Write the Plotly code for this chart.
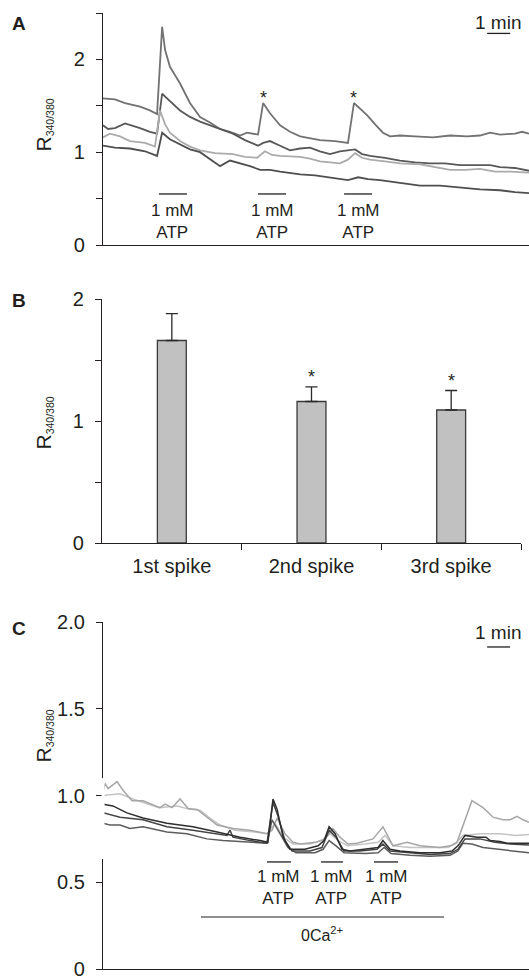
import plotly.graph_objects as go

FONT = "Liberation Sans, Arial, Helvetica, sans-serif"
INK = "#231f20"

# ---------------- Panel A: time (min) / ratio ----------------
a_t1 = [0.00, 0.52, 0.96, 1.61, 2.04, 2.35, 2.57, 2.70, 2.91, 3.35, 3.78, 4.22, 4.65, 5.09, 5.52, 5.96, 6.26, 6.74,
        6.96, 7.26, 7.70, 8.13, 8.57, 9.00, 9.43, 10.09, 10.65, 10.91, 11.17, 11.48, 11.83, 12.17, 12.48, 12.91,
        13.57, 14.35, 15.09, 15.83, 16.39, 16.83, 17.26, 17.91, 18.22, 18.52]
a_v1 = [1.58, 1.57, 1.53, 1.49, 1.45, 1.41, 2.35, 2.10, 1.92, 1.74, 1.53, 1.38, 1.32, 1.25, 1.22, 1.18, 1.21, 1.19,
        1.53, 1.42, 1.29, 1.22, 1.17, 1.15, 1.13, 1.12, 1.10, 1.53, 1.47, 1.40, 1.30, 1.21, 1.17, 1.18,
        1.17, 1.16, 1.18, 1.17, 1.18, 1.21, 1.19, 1.20, 1.22, 1.20]

a_t2 = [0.00, 0.22, 0.52, 0.96, 1.61, 2.04, 2.35, 2.57, 2.91, 3.35, 3.78, 4.22, 4.87, 5.65, 6.17, 6.74, 6.96, 7.26,
        7.70, 8.13, 8.57, 9.00, 9.43, 9.87, 10.30, 10.74, 10.96, 11.26, 11.61, 12.26, 12.91, 13.57, 14.22, 14.87,
        15.52, 16.39, 16.83, 17.26, 17.91, 18.52]
a_v2 = [1.29, 1.25, 1.26, 1.31, 1.26, 1.22, 1.20, 1.63, 1.55, 1.45, 1.38, 1.33, 1.27, 1.20, 1.13, 1.07, 1.10, 1.12,
        1.07, 1.02, 1.04, 1.05, 1.01, 0.98, 1.01, 1.02, 1.03, 0.98, 0.96, 0.94, 0.91, 0.89, 0.88, 0.88,
        0.86, 0.86, 0.86, 0.84, 0.83, 0.80]

a_t3 = [0.00, 0.30, 0.74, 1.17, 1.83, 2.26, 2.48, 2.70, 2.91, 3.35, 3.78, 4.22, 4.87, 5.65, 6.17, 6.70, 7.04, 7.35,
        7.70, 8.57, 9.00, 9.43, 9.87, 10.30, 10.65, 10.96, 11.26, 11.61, 12.26, 12.91, 13.78, 14.22, 15.09, 15.74,
        16.39, 17.04, 17.70, 18.52]
a_v3 = [1.16, 1.20, 1.17, 1.12, 1.10, 1.06, 1.45, 1.30, 1.21, 1.12, 1.06, 1.02, 0.99, 0.98, 0.95, 0.94, 1.01, 0.97,
        0.96, 0.95, 0.93, 0.90, 0.89, 0.88, 0.92, 0.99, 0.94, 0.92, 0.90, 0.88, 0.87, 0.85, 0.81, 0.81,
        0.82, 0.79, 0.79, 0.78]

a_t4 = [0.00, 0.52, 1.17, 1.83, 2.35, 2.57, 2.91, 3.35, 3.78, 4.22, 4.65, 5.09, 5.52, 5.96, 6.39, 6.83, 7.26, 7.70,
        8.57, 9.22, 9.87, 10.65, 11.09, 11.52, 12.04, 12.91, 13.78, 14.65, 15.52, 16.39, 17.26, 17.91, 18.52]
a_v4 = [1.07, 1.05, 1.04, 1.01, 0.96, 1.21, 1.14, 1.08, 1.03, 1.00, 0.93, 0.85, 0.91, 0.88, 0.85, 0.81, 0.81, 0.79,
        0.76, 0.75, 0.73, 0.70, 0.73, 0.71, 0.70, 0.67, 0.64, 0.64, 0.62, 0.60, 0.59, 0.57, 0.56]

a_atp_on = [2.43, 6.74, 10.48]
a_atp_off = [3.65, 7.96, 11.70]
a_star_t = [6.96, 10.91]

# ---------------- Panel B: spike amplitudes ----------------
b_cats = ["1st spike", "2nd spike", "3rd spike"]
b_mean = [1.66, 1.16, 1.09]
b_sem = [0.22, 0.12, 0.16]
b_star = ["", "*", "*"]

# ---------------- Panel C: 0 Ca2+ ----------------
c_t1 = [0.00, 0.09, 0.22, 0.61, 0.87, 1.26, 1.74, 2.48, 2.70, 3.00, 3.35, 3.70, 4.09, 4.52, 4.96, 5.65, 6.39, 7.13,
        7.35, 7.57, 7.91, 8.26, 8.57, 9.22, 9.65, 10.00, 10.30, 10.65, 11.04, 11.74, 12.17, 12.61, 13.22, 13.78,
        14.65, 15.09, 15.39, 16.04, 16.52, 16.96, 17.39, 17.70, 18.00, 18.26, 18.52]
c_v1 = [1.02, 1.07, 1.04, 1.08, 1.03, 0.97, 0.97, 0.93, 0.95, 0.93, 0.98, 0.925, 0.92, 0.875, 0.83, 0.81, 0.80, 0.78,
        0.80, 0.87, 0.78, 0.73, 0.72, 0.73, 0.75, 0.81, 0.76, 0.72, 0.725, 0.75, 0.82, 0.71, 0.73, 0.71,
        0.70, 0.71, 0.73, 0.97, 0.93, 0.875, 0.86, 0.86, 0.88, 0.86, 0.845]

c_t2 = [0.00, 0.74, 1.30, 1.74, 2.43, 3.22, 3.78, 4.22, 4.65, 5.09, 5.74, 6.61, 7.13, 7.48, 7.83, 8.26, 9.00, 9.52,
        9.87, 10.22, 10.65, 11.39, 11.96, 12.26, 12.61, 13.35, 14.22, 15.00, 15.30, 15.65, 16.39, 17.26, 17.91, 18.52]
c_v2 = [1.00, 1.01, 0.98, 0.96, 0.93, 0.94, 0.92, 0.915, 0.87, 0.83, 0.80, 0.79, 0.78, 0.84, 0.76, 0.72, 0.72, 0.74,
        0.78, 0.74, 0.71, 0.72, 0.73, 0.77, 0.71, 0.70, 0.70, 0.70, 0.72, 0.77, 0.78, 0.78, 0.77, 0.775]

c_t3 = [0.00, 0.43, 1.04, 1.74, 2.78, 3.91, 4.96, 5.96, 6.83, 7.17, 7.39, 7.57, 7.83, 8.13, 8.78, 9.35, 9.61, 9.83,
        10.09, 10.39, 10.74, 11.39, 11.96, 12.17, 12.48, 12.91, 13.78, 14.65, 15.17, 15.43, 15.74, 16.26, 16.65,
        16.83, 17.26, 17.57, 18.52]
c_v3 = [0.95, 0.94, 0.90, 0.87, 0.84, 0.82, 0.79, 0.76, 0.74, 0.73, 0.98, 0.92, 0.76, 0.69, 0.69, 0.71, 0.74, 0.82,
        0.78, 0.69, 0.68, 0.69, 0.70, 0.74, 0.69, 0.68, 0.67, 0.67, 0.68, 0.71, 0.77, 0.76, 0.76,
        0.74, 0.735, 0.725, 0.725]

c_t4 = [0.00, 0.74, 1.74, 2.78, 3.91, 5.39, 5.52, 5.65, 6.39, 7.13, 7.39, 7.61, 7.91, 8.22, 9.00, 9.52, 9.83, 10.13,
        10.48, 11.17, 11.91, 12.17, 12.48, 13.35, 14.22, 15.09, 15.43, 15.74, 16.39, 17.04, 17.70, 18.52]
c_v4 = [0.90, 0.875, 0.86, 0.82, 0.80, 0.77, 0.80, 0.76, 0.74, 0.725, 0.96, 0.88, 0.74, 0.68, 0.68, 0.70, 0.80, 0.76,
        0.68, 0.68, 0.69, 0.72, 0.68, 0.67, 0.66, 0.665, 0.69, 0.75, 0.75, 0.73, 0.72, 0.715]

c_t5 = [0.00, 0.30, 0.74, 1.17, 1.74, 2.35, 2.78, 3.65, 4.52, 5.22, 6.39, 7.13, 7.35, 7.61, 8.04, 8.39, 9.22, 9.57,
        9.83, 10.13, 10.48, 11.39, 11.96, 12.22, 12.52, 13.35, 14.22, 15.09, 15.43, 15.65, 16.04, 16.52, 17.26,
        17.91, 18.52]
c_v5 = [0.84, 0.83, 0.83, 0.81, 0.82, 0.80, 0.79, 0.78, 0.75, 0.74, 0.73, 0.725, 0.86, 0.80, 0.70, 0.67, 0.67, 0.69,
        0.74, 0.71, 0.67, 0.665, 0.67, 0.70, 0.665, 0.655, 0.65, 0.655, 0.68, 0.725, 0.72, 0.70, 0.69,
        0.68, 0.67]

c_atp_on = [7.13, 9.48, 11.78]
c_atp_off = [8.17, 10.43, 12.83]
c_ca_on, c_ca_off = 4.26, 14.83

scale_start, scale_len = 16.70, 1.0

# ---------------- figure ----------------
W, H = 529, 980
def py(p):
    return 1 - p / H

fig = go.Figure()

a_series = [(a_t1, a_v1, "#727272"), (a_t2, a_v2, "#585858"), (a_t3, a_v3, "#ababab"), (a_t4, a_v4, "#4f4f4f")]
for t, v, col in a_series:
    fig.add_trace(go.Scatter(x=t, y=v, mode="lines", line=dict(color=col, width=1.8),
                             xaxis="x", yaxis="y", hoverinfo="skip", showlegend=False))

fig.add_trace(go.Bar(x=[0, 1, 2], y=b_mean, width=0.207,
                     marker=dict(color="#c1c1c1", line=dict(color="#3a3a3a", width=1.3)),
                     error_y=dict(type="data", symmetric=False, array=b_sem, arrayminus=[0, 0, 0],
                                  color="#2a2a2a", thickness=1.3, width=6),
                     xaxis="x2", yaxis="y2", hoverinfo="skip", showlegend=False))
fig.add_trace(go.Scatter(x=[0.5], y=[0], mode="markers", marker=dict(opacity=0),
                         xaxis="x4", yaxis="y2", hoverinfo="skip", showlegend=False))

c_series = [(c_t2, c_v2, "#c4c4c4"), (c_t1, c_v1, "#a6a6a6"), (c_t5, c_v5, "#5c5c5c"),
            (c_t4, c_v4, "#444444"), (c_t3, c_v3, "#2e2e2e")]
for t, v, col in c_series:
    fig.add_trace(go.Scatter(x=t, y=v, mode="lines", line=dict(color=col, width=1.5),
                             xaxis="x3", yaxis="y3", hoverinfo="skip", showlegend=False))

line_common = dict(showline=True, linecolor=INK, linewidth=1.2, showgrid=False, zeroline=False,
                   tickcolor=INK, ticklen=6, tickwidth=1.2, automargin=False)
axis_common = dict(line_common, tickfont=dict(family=FONT, size=20, color=INK))
minor_half = dict(ticks="outside", tick0=0, dtick=0.5, ticklen=6, tickcolor=INK, tickwidth=1.2, showgrid=False)
xl = 103 / W

fig.update_layout(
    template="none",
    width=W, height=H, margin=dict(l=0, r=0, t=0, b=0, pad=0), autosize=False,
    paper_bgcolor="white", plot_bgcolor="white",
    font=dict(family=FONT, color=INK),
    xaxis=dict(domain=[xl, 1], range=[0, 18.52], showticklabels=False, ticks="", anchor="y", **line_common),
    yaxis=dict(domain=[py(245), py(13)], range=[0, 2.5], anchor="x", ticks="outside", ticklabelstandoff=7,
               tickvals=[0, 1, 2], ticktext=["0", "1", "2"], minor=minor_half, **axis_common),
    xaxis2=dict(domain=[102 / W, 521 / W], range=[-0.5, 2.5], anchor="y2", ticks="", ticklabelstandoff=5,
                tickvals=[0, 1, 2], ticktext=b_cats, **axis_common),
    xaxis4=dict(domain=[102 / W, 521 / W], range=[-0.5, 2.5], anchor="y2", overlaying="x2",
                ticks="outside", tickvals=[0.5, 1.5, 2.5], showticklabels=False, showline=False,
                showgrid=False, zeroline=False, tickcolor=INK, ticklen=6, tickwidth=1.2, automargin=False),
    yaxis2=dict(domain=[py(543), py(299)], range=[0, 2], anchor="x2", ticks="outside", ticklabelstandoff=7,
                tickvals=[0, 1, 2], ticktext=["0", "1", "2"], minor=minor_half, **axis_common),
    xaxis3=dict(domain=[xl, 1], range=[0, 18.52], showticklabels=False, ticks="", anchor="y3", **line_common),
    yaxis3=dict(domain=[py(969), py(622)], range=[0, 2], anchor="x3", ticks="outside", ticklabelstandoff=7,
                tickvals=[0, 0.5, 1, 1.5, 2], ticktext=["0", "0.5", "1.0", "1.5", "2.0"], **axis_common),
)

shapes = []
ann = []

for letter, ypix in [("A", 23.5), ("B", 300), ("C", 628)]:
    ann.append(dict(text=f"<b>{letter}</b>", x=18.5 / W, y=py(ypix), xref="paper", yref="paper",
                    xanchor="center", yanchor="middle",
                    showarrow=False, font=dict(family=FONT, size=19, color=INK)))
for ypix in [125, 423, 736]:
    ann.append(dict(text='<span style="font-size:21px">R</span><sub>340/380</sub>', x=43.5 / W, y=py(ypix),
                    xref="paper", yref="paper", xanchor="center", yanchor="middle",
                    textangle=-90, showarrow=False, font=dict(family=FONT, size=15, color=INK)))

def atp_marks(on, off, xr, yr, ybar, ytxt):
    for s, e in zip(on, off):
        shapes.append(dict(type="line", x0=s, x1=e, y0=ybar, y1=ybar, xref=xr, yref=yr,
                           line=dict(color=INK, width=1.3)))
        ann.append(dict(text="1 mM<br>ATP", x=(s + e) / 2, y=ytxt, xref=xr, yref=yr,
                        xanchor="center", yanchor="top",
                        showarrow=False, font=dict(family=FONT, size=17, color=INK)))

atp_marks(a_atp_on, a_atp_off, "x", "y", 0.55, 0.50)
atp_marks(c_atp_on, c_atp_off, "x3", "y3", 0.617, 0.60)

for t in a_star_t:
    ann.append(dict(text="*", x=t, y=1.53, xref="x", yref="y", xanchor="center", yanchor="bottom", yshift=-7,
                    showarrow=False, font=dict(family=FONT, size=18, color=INK)))
for i, s in enumerate(b_star):
    if s:
        ann.append(dict(text=s, x=i, y=b_mean[i] + b_sem[i], xref="x2", yref="y2", xanchor="center",
                        yanchor="bottom", yshift=-2, showarrow=False, font=dict(family=FONT, size=18, color=INK)))

for xr, yr, ybar, ytxt in [("x", "y", 2.28, 2.40), ("x3", "y3", 1.856, 1.937)]:
    shapes.append(dict(type="line", x0=scale_start, x1=scale_start + scale_len, y0=ybar, y1=ybar,
                       xref=xr, yref=yr, line=dict(color=INK, width=1.3)))
    ann.append(dict(text="1 min", x=17.17, y=ytxt, xref=xr, yref=yr, xanchor="center", yanchor="middle",
                    showarrow=False, font=dict(family=FONT, size=19, color=INK)))

shapes.append(dict(type="line", x0=c_ca_on, x1=c_ca_off, y0=0.30, y1=0.30, xref="x3", yref="y3",
                   line=dict(color=INK, width=1.1)))
ann.append(dict(text="0Ca<sup>2+</sup>", x=(c_ca_on + c_ca_off) / 2 - 0.03, y=0.20, xref="x3", yref="y3",
                xanchor="center", yanchor="middle",
                showarrow=False, font=dict(family=FONT, size=16, color=INK)))

shapes.append(dict(type="rect", x0=101.6 / W, x1=104.5 / W, y0=0.634, y1=1.10, xref="paper", yref="y3",
                   fillcolor="white", line=dict(width=0), layer="above"))

fig.update_layout(shapes=shapes, annotations=ann)
fig.write_html("out.html", config={"displayModeBar": False},
               post_script="document.body.style.margin='0';document.body.style.overflow='hidden';")
